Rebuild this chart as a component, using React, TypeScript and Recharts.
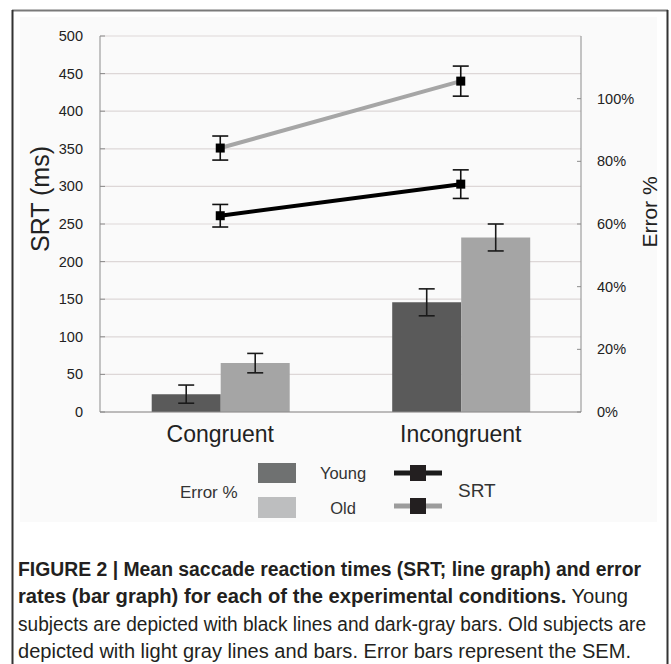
import React from "react";
import {
  ComposedChart,
  Bar,
  Line,
  XAxis,
  YAxis,
  CartesianGrid,
  ErrorBar,
  Label,
} from "recharts";

// values
const categories = ["Congruent", "Incongruent"];
const errorYoung = [0.057, 0.35];
const errorYoungSem = [0.029, 0.043];
const errorOld = [0.156, 0.557];
const errorOldSem = [0.031, 0.043];
const srtYoung = [261, 303];
const srtYoungSem = [15, 19];
const srtOld = [351, 440];
const srtOldSem = [16, 20];

const srtTicks = [0, 50, 100, 150, 200, 250, 300, 350, 400, 450, 500];
const errorTicks = [0, 0.2, 0.4, 0.6, 0.8, 1.0];

const data = categories.map((category, i) => ({
  category,
  errYoung: errorYoung[i],
  errYoungSem: errorYoungSem[i],
  errOld: errorOld[i],
  errOldSem: errorOldSem[i],
  srtYoung: srtYoung[i],
  srtYoungSem: srtYoungSem[i],
  srtOld: srtOld[i],
  srtOldSem: srtOldSem[i],
}));

const FONT = "'Liberation Sans', Arial, sans-serif";
const AXIS = "#8c8c8c";

const SquareDot = (props: any) => {
  const { cx, cy, index } = props;
  if (cx == null || cy == null) return null;
  return <rect key={index} x={cx - 4.5} y={cy - 4.5} width={9} height={9} fill="#000" />;
};

const LeftTick = ({ x, y, payload }: any) => (
  <g>
    <line x1={x + 17} x2={x + 22} y1={y} y2={y} stroke={AXIS} />
    <text x={x} y={y} dy={5} textAnchor="end" fontSize={14.5} fill="#222" fontFamily={FONT}>
      {payload.value}
    </text>
  </g>
);

const RightTick = ({ x, y, payload }: any) => (
  <g>
    <line x1={x - 20} x2={x - 16} y1={y} y2={y} stroke={AXIS} />
    <text x={x} y={y} dy={5} textAnchor="start" fontSize={14.5} fill="#222" fontFamily={FONT}>
      {Math.round(payload.value * 100)}%
    </text>
  </g>
);

const AxisTitle = ({ viewBox, text, dx, dy, size }: any) => {
  const x = viewBox.x + dx;
  const y = viewBox.y + viewBox.height / 2 + dy;
  return (
    <text
      transform={`translate(${x},${y}) rotate(-90)`}
      textAnchor="middle"
      dominantBaseline="central"
      fontSize={size}
      fill="#222"
      fontFamily={FONT}
    >
      {text}
    </text>
  );
};

export default function App() {
  return (
    <div style={{ position: "absolute", left: 0, top: 0, width: 671, height: 664, background: "#fff" }}>
      {/* faint panel behind the chart */}
      <svg width={671} height={664} style={{ position: "absolute", left: 0, top: 0 }}>
        <rect x={20} y={17} width={637} height={505} fill="#fafafa" />
      </svg>

      <ComposedChart
        width={671}
        height={450}
        data={data}
        margin={{ top: 36, right: 0, bottom: 10, left: 0 }}
        barCategoryGap="21.5%"
        barGap={0}
      >
        <CartesianGrid yAxisId="srt" vertical={false} stroke="#ddd7d7" strokeWidth={1.2} />
        <XAxis
          dataKey="category"
          axisLine={{ stroke: AXIS }}
          tickLine={false}
          tickMargin={8}
          height={28}
          tick={{ fontSize: 23, fill: "#222", fontFamily: FONT }}
        />
        <YAxis
          yAxisId="srt"
          orientation="left"
          width={100}
          domain={[0, 500]}
          ticks={srtTicks}
          axisLine={{ stroke: AXIS }}
          tickLine={false}
          tickSize={0}
          tickMargin={17}
          tick={<LeftTick />}
        >
          <Label content={(p: any) => <AxisTitle {...p} text="SRT (ms)" dx={40} dy={-25} size={25} />} />
        </YAxis>
        <YAxis
          yAxisId="err"
          orientation="right"
          width={90}
          domain={[0, 1.2]}
          ticks={errorTicks}
          axisLine={{ stroke: AXIS }}
          tickLine={false}
          tickSize={0}
          tickMargin={16}
          tick={<RightTick />}
        >
          <Label content={(p: any) => <AxisTitle {...p} text="Error %" dx={68} dy={-12} size={21} />} />
        </YAxis>
        <Bar yAxisId="err" dataKey="errYoung" fill="#5a5a5a" isAnimationActive={false}>
          <ErrorBar dataKey="errYoungSem" width={8} stroke="#1a1a1a" strokeWidth={1.6} />
        </Bar>
        <Bar yAxisId="err" dataKey="errOld" fill="#a5a5a5" isAnimationActive={false}>
          <ErrorBar dataKey="errOldSem" width={8} stroke="#1a1a1a" strokeWidth={1.6} />
        </Bar>
        <Line
          yAxisId="srt"
          dataKey="srtOld"
          stroke="#a6a6a6"
          strokeWidth={4}
          dot={SquareDot}
          activeDot={false}
          isAnimationActive={false}
        >
          <ErrorBar dataKey="srtOldSem" width={8} stroke="#111" strokeWidth={1.6} direction="y" />
        </Line>
        <Line
          yAxisId="srt"
          dataKey="srtYoung"
          stroke="#000"
          strokeWidth={4}
          dot={SquareDot}
          activeDot={false}
          isAnimationActive={false}
        >
          <ErrorBar dataKey="srtYoungSem" width={8} stroke="#111" strokeWidth={1.6} direction="y" />
        </Line>
      </ComposedChart>

      <svg
        width={671}
        height={664}
        style={{ position: "absolute", left: 0, top: 0, pointerEvents: "none" }}
      >
        {/* frame */}
        <line x1={12} x2={668} y1={10.5} y2={10.5} stroke="#7a7a7a" strokeWidth={2} />
        <line x1={12.5} x2={12.5} y1={10} y2={664} stroke="#333" strokeWidth={2} />
        <line x1={667.5} x2={667.5} y1={10} y2={664} stroke="#333" strokeWidth={2} />

        {/* legend */}
        <g fontFamily={FONT} fill="#333">
          <text x={180} y={498} fontSize={17}>Error %</text>
          <rect x={258} y={463} width={38} height={20} fill="#6f7171" />
          <rect x={258} y={497} width={38} height={21} fill="#bdbebf" />
          <text x={343} y={479} fontSize={16.5} textAnchor="middle">Young</text>
          <text x={343} y={514} fontSize={16.5} textAnchor="middle">Old</text>
          <line x1={394} x2={442} y1={473} y2={473} stroke="#1b1b1b" strokeWidth={5} />
          <rect x={410} y={465} width={16} height={16} fill="#231f20" />
          <line x1={394} x2={442} y1={506} y2={506} stroke="#9c9c9c" strokeWidth={5} />
          <rect x={410} y={498} width={16} height={16} fill="#231f20" />
          <text x={458} y={497} fontSize={19}>SRT</text>
        </g>

        {/* caption */}
        <g fontFamily={FONT} fontSize={19.5} fill="#231f20">
          <text x={18} y={576} fontWeight="bold" textLength={623} lengthAdjust="spacingAndGlyphs">
            FIGURE 2 | Mean saccade reaction times (SRT; line graph) and error
          </text>
          <text x={18} y={603} textLength={610} lengthAdjust="spacingAndGlyphs">
            <tspan fontWeight="bold">rates (bar graph) for each of the experimental conditions.</tspan>
            <tspan> Young</tspan>
          </text>
          <text x={18} y={631} textLength={628} lengthAdjust="spacingAndGlyphs">
            subjects are depicted with black lines and dark-gray bars. Old subjects are
          </text>
          <text x={18} y={658} textLength={613} lengthAdjust="spacingAndGlyphs">
            depicted with light gray lines and bars. Error bars represent the SEM.
          </text>
        </g>
      </svg>
    </div>
  );
}
